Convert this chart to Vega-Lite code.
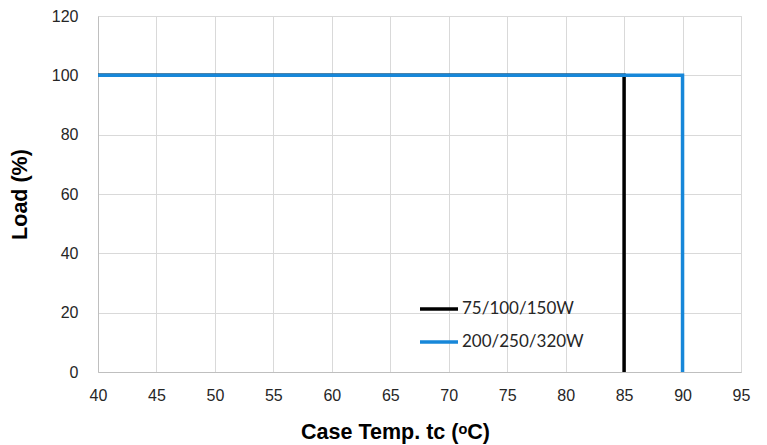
{
  "$schema": "https://vega.github.io/schema/vega-lite/v6.json",
  "width": 643,
  "height": 356,
  "autosize": "none",
  "padding": {"left": 98, "top": 16, "right": 26, "bottom": 73},
  "background": "white",
  "config": {
    "view": {"stroke": "#d9d9d9"},
    "axis": {
      "labelFont": "Liberation Sans",
      "labelFontSize": 16,
      "labelColor": "#262626",
      "labelFlush": false,
      "titleFont": "Liberation Sans",
      "titleFontSize": 21.5,
      "titleFontWeight": "bold",
      "titleColor": "#000000",
      "gridColor": "#d9d9d9",
      "domainColor": "#bfbfbf",
      "ticks": false
    }
  },
  "datasets": {
    "lines": [
      {"series": "75/100/150W", "temp": 40, "load": 100, "ord": 1},
      {"series": "75/100/150W", "temp": 85, "load": 100, "ord": 2},
      {"series": "75/100/150W", "temp": 85, "load": 0, "ord": 3},
      {"series": "200/250/320W", "temp": 40, "load": 100, "ord": 1},
      {"series": "200/250/320W", "temp": 90, "load": 100, "ord": 2},
      {"series": "200/250/320W", "temp": 90, "load": 0, "ord": 3}
    ]
  },
  "data": {"name": "lines"},
  "encoding": {
    "x": {
      "field": "temp", "type": "quantitative",
      "scale": {"domain": [40, 95], "nice": false, "zero": false},
      "axis": {"values": [40,45,50,55,60,65,70,75,80,85,90,95], "labelPadding": 15, "title": "Case Temp. tc (ᵒC)", "titlePadding": 18, "titleX": 297}
    },
    "y": {
      "field": "load", "type": "quantitative",
      "scale": {"domain": [0, 120], "nice": false},
      "axis": {"values": [0,20,40,60,80,100,120], "labelPadding": 20, "title": "Load (%)", "titlePadding": 20}
    },
    "color": {
      "field": "series", "type": "nominal",
      "scale": {"domain": ["75/100/150W", "200/250/320W"], "range": ["#000000", "#1787D9"]},
      "legend": {
        "title": null,
        "orient": "none",
        "legendX": 320,
        "legendY": 272,
        "symbolType": "stroke",
        "symbolSize": 1444,
        "symbolStrokeWidth": 3.5,
        "labelFont": "Lato",
        "labelFontSize": 17,
        "labelColor": "#262626",
        "labelOffset": 2,
        "rowPadding": 4
      }
    },
    "order": {"field": "ord", "type": "quantitative"}
  },
  "layer": [
    {"transform": [{"filter": "datum.series == '75/100/150W'"}], "mark": {"type": "line", "strokeWidth": 3.5}},
    {"transform": [{"filter": "datum.series == '200/250/320W'"}], "mark": {"type": "line", "strokeWidth": 3.5}}
  ]
}
